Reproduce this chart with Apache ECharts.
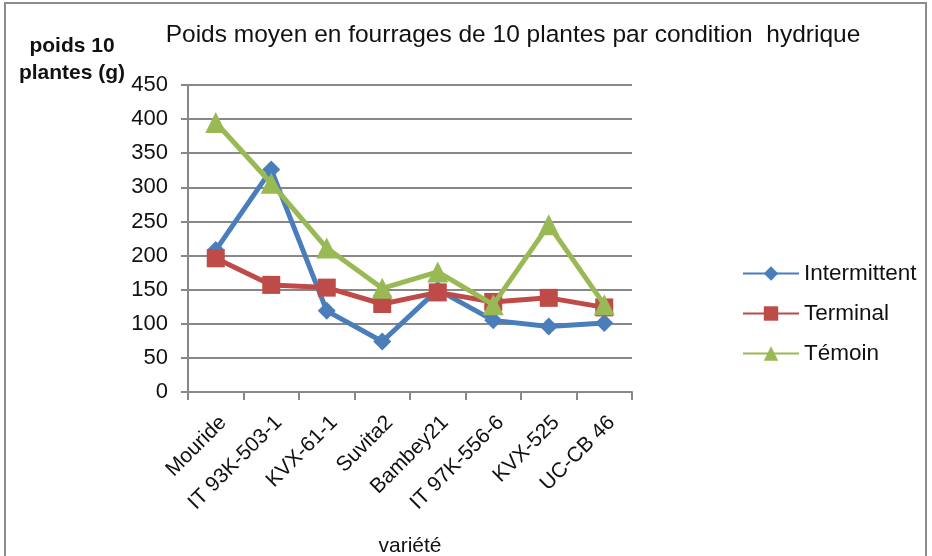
<!DOCTYPE html>
<html><head><meta charset="utf-8">
<script src="https://cdn.jsdelivr.net/npm/echarts@6/dist/echarts.min.js"></script>
<style>html,body{margin:0;padding:0;background:#fff}#c{width:932px;height:556px}</style>
</head><body><div id="c"></div>
<script>
const categories = ['Mouride','IT 93K-503-1','KVX-61-1','Suvita2','Bambey21','IT 97K-556-6','KVX-525','UC-CB 46'];
const intermittent = [208, 326, 119, 74, 150, 105, 96, 101];
const terminal = [196, 157, 153, 129, 146, 132, 138, 124];
const temoin = [395, 306, 211, 152, 176, 128, 245, 128];
const yTicks = [0, 50, 100, 150, 200, 250, 300, 350, 400, 450];

const F = '"Liberation Sans", Arial, sans-serif';
const chart = echarts.init(document.getElementById('c'));
chart.setOption({
  animation: false,
  backgroundColor: '#fff',
  graphic: [{type:'rect', shape:{x:5,y:3,width:921,height:560}, style:{fill:'none', stroke:'#8c8c8c', lineWidth:2}}],
  title: {text:'Poids moyen en fourrages de 10 plantes par condition  hydrique', left:508, textAlign:'center', top:18,
    textStyle:{fontFamily:F, fontSize:24.5, fontWeight:'normal', color:'#111'}},
  grid: {left:188, right:300, top:85, bottom:164, outerBoundsMode:'none', containLabel:false},
  legend: {orient:'vertical', left:737, top:257, itemGap:17, itemWidth:56, itemHeight:18,
    textStyle:{fontFamily:F, fontSize:22.5, color:'#111'},
    data:['Intermittent','Terminal','Témoin']},
  xAxis: {type:'category', data:categories, boundaryGap:true,
    name:'variété', nameLocation:'middle', nameGap:144,
    nameTextStyle:{fontFamily:F, fontSize:21, color:'#111'},
    axisLine:{lineStyle:{color:'#888', width:2}},
    axisTick:{show:true, length:8, lineStyle:{color:'#888', width:2}},
    axisLabel:{rotate:45, fontFamily:F, fontSize:21, color:'#111', margin:20, interval:0, verticalAlign:'top'}},
  yAxis: {type:'value', min:0, max:450, interval:50,
    name:'poids 10\nplantes (g)', nameLocation:'end', nameGap:-2, nameMoveOverlap:false,
    nameTextStyle:{fontFamily:F, fontSize:21, fontWeight:'bold', color:'#111', align:'center', verticalAlign:'bottom', padding:[0,232,0,0], lineHeight:27},
    axisLine:{show:true, lineStyle:{color:'#888', width:2}},
    axisTick:{show:true, length:7, lineStyle:{color:'#888', width:2}},
    splitLine:{lineStyle:{color:'#888', width:2}},
    axisLabel:{fontFamily:F, fontSize:22, color:'#111', margin:20,
      formatter: v => yTicks.includes(v) ? String(v) : ''}},
  series: [
    {name:'Intermittent', type:'line', data:intermittent, symbol:'diamond', symbolSize:18,
      lineStyle:{width:5, color:'#4a7ebb'}, itemStyle:{color:'#4a7ebb'}, z:2},
    {name:'Terminal', type:'line', data:terminal, symbol:'rect', symbolSize:18,
      lineStyle:{width:5, color:'#be4b48'}, itemStyle:{color:'#be4b48'}, z:3},
    {name:'Témoin', type:'line', data:temoin, symbol:'triangle', symbolSize:21,
      lineStyle:{width:5, color:'#98b954'}, itemStyle:{color:'#98b954'}, z:4}
  ]
});
</script></body></html>
